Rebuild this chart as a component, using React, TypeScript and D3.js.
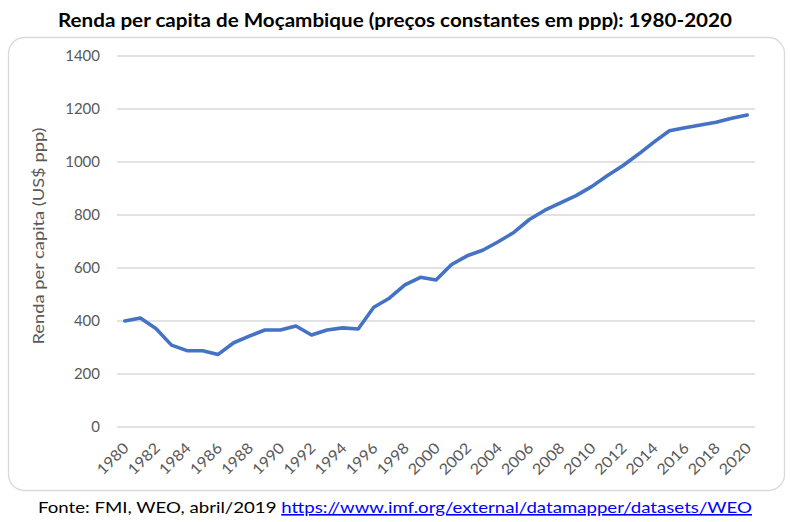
import React from "react";
import * as d3 from "d3";

const years: number[] = d3.range(1980, 2021);
const values: number[] = [
  400, 411, 372, 309, 288, 288, 274, 318, 343, 366,
  366, 381, 347, 366, 374, 370, 452, 486, 536, 565,
  555, 613, 646, 667, 699, 734, 783, 818, 846, 873,
  907, 948, 986, 1029, 1075, 1118, 1129, 1140, 1150, 1165,
  1177,
];
const yTicks: number[] = [0, 200, 400, 600, 800, 1000, 1200, 1400];
const xLabels: number[] = years.filter((y) => (y - 1980) % 2 === 0);

const title = "Renda per capita de Moçambique (preços constantes em ppp): 1980-2020";
const yTitle = "Renda per capita (US$ ppp)";
const sourceText = "Fonte: FMI, WEO, abril/2019 ";
const sourceLink = "https://www.imf.org/external/datamapper/datasets/WEO";

const W = 790;
const H = 522;
const plotLeft = 117;
const plotRight = 755;
const plotTop = 56;
const plotBottom = 427;
const FONT = "Lato, 'Noto Sans', sans-serif";

export default function App() {
  const x = d3
    .scaleBand<number>()
    .domain(years)
    .range([plotLeft, plotRight])
    .padding(0);
  const cx = (yr: number) => (x(yr) as number) + x.bandwidth() / 2;
  const y = d3.scaleLinear().domain([0, 1400]).range([plotBottom, plotTop]);

  const line = d3
    .line<number>()
    .x((_, i) => cx(years[i]))
    .y((d) => y(d));

  return (
    <div style={{ position: "absolute", left: 0, top: 0 }}>
      <svg width={W} height={H} style={{ display: "block", background: "#fff" }}>
        <rect x={0} y={0} width={W} height={H} fill="#fff" />
        <rect
          x={8.5}
          y={37.5}
          width={776}
          height={453}
          rx={16}
          ry={16}
          fill="#fff"
          stroke="#d9d9d9"
          strokeWidth={1.3}
        />
        <text
          x={395}
          y={27}
          textAnchor="middle"
          fontFamily={FONT}
          fontWeight="bold"
          fontSize={18}
          textLength={674}
          lengthAdjust="spacingAndGlyphs"
          fill="#000"
        >
          {title}
        </text>

        {yTicks.map((t) => (
          <g key={t}>
            <line
              x1={plotLeft}
              x2={plotRight}
              y1={y(t)}
              y2={y(t)}
              stroke="#d9d9d9"
              strokeWidth={1.3}
            />
            <text
              x={100}
              y={y(t) + 5}
              textAnchor="end"
              fontFamily={FONT}
              fontSize={15}
              fill="#595959"
            >
              {t}
            </text>
          </g>
        ))}

        <text
          transform={`translate(44, 236) rotate(-90)`}
          textAnchor="middle"
          fontFamily={FONT}
          fontSize={16}
          textLength={217}
          lengthAdjust="spacingAndGlyphs"
          fill="#595959"
        >
          {yTitle}
        </text>

        {xLabels.map((yr) => (
          <text
            key={yr}
            transform={`translate(${cx(yr) + 5}, ${plotBottom + 22}) rotate(-45)`}
            textAnchor="end"
            fontFamily={FONT}
            fontSize={15}
            textLength={38}
            lengthAdjust="spacingAndGlyphs"
            fill="#595959"
          >
            {yr}
          </text>
        ))}

        <path
          d={line(values) || ""}
          fill="none"
          stroke="#4472C4"
          strokeWidth={3.6}
          strokeLinejoin="round"
          strokeLinecap="round"
        />

        <text x={395} y={513} textAnchor="middle" fontFamily={FONT} fontSize={16} textLength={714} lengthAdjust="spacingAndGlyphs">
          <tspan fill="#000">{sourceText}</tspan>
          <tspan fill="#0000ff" textDecoration="underline">
            {sourceLink}
          </tspan>
        </text>
      </svg>
    </div>
  );
}
